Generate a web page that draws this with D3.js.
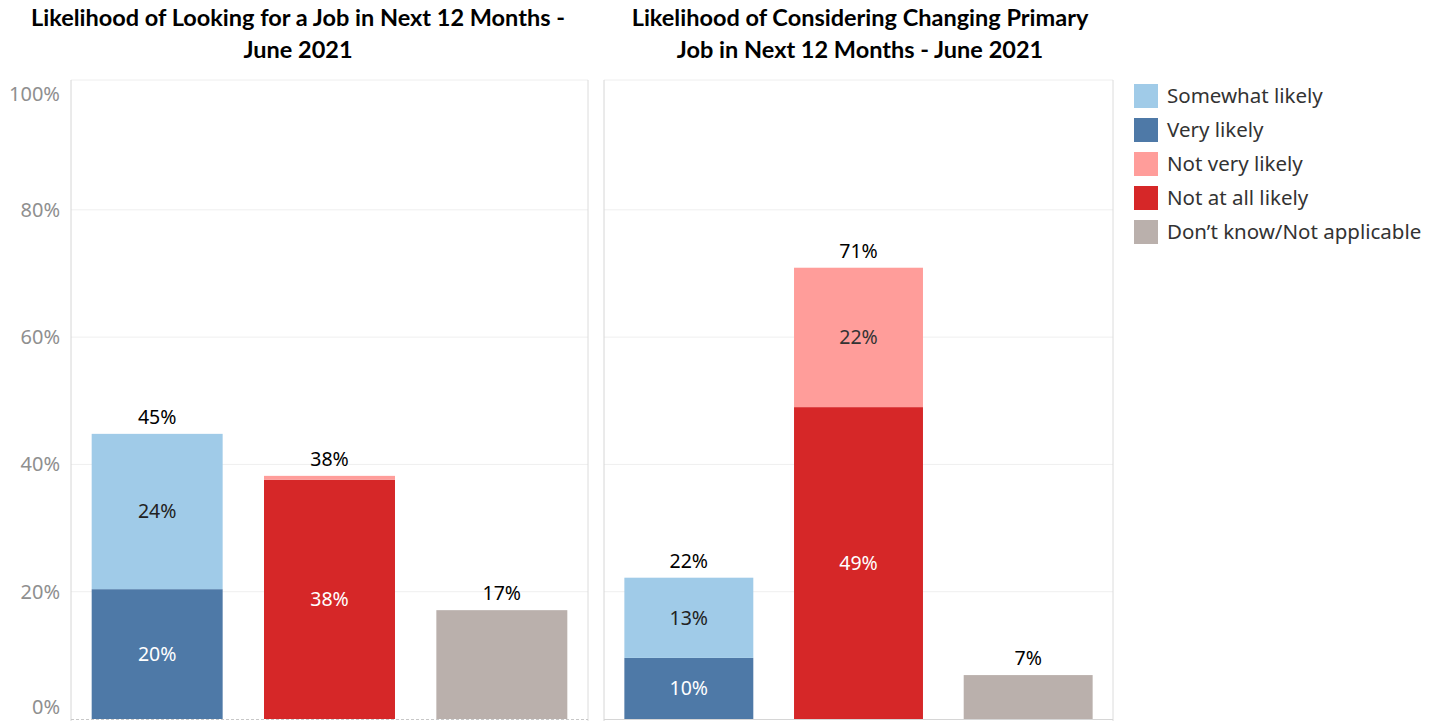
<!DOCTYPE html>
<html>
<head>
<meta charset="utf-8">
<script src="https://cdn.jsdelivr.net/npm/d3@7"></script>
<style>
  html, body { margin: 0; padding: 0; background: #fff; }
  svg { display: block; }
  .title { font-family: Lato, "Open Sans", sans-serif; font-weight: 700; font-size: 23.5px; fill: #000; }
  .tick text { font-family: "Noto Sans", sans-serif; font-size: 20px; fill: #8f8f8f; }
  .val { font-family: "Noto Sans", sans-serif; font-size: 19.5px; }
  .legend text { font-family: "Noto Sans", sans-serif; font-size: 20.5px; fill: #333; }
</style>
</head>
<body>
<div id="chart"></div>
<script>
(function () {
  const categories = ["Likely", "Not likely", "Don’t know/Not applicable"];
  const seriesKeys = ["Very likely", "Somewhat likely", "Not at all likely", "Not very likely", "Don’t know/Not applicable"];
  const legendOrder = ["Somewhat likely", "Very likely", "Not very likely", "Not at all likely", "Don’t know/Not applicable"];
  const yTicks = [0, 20, 40, 60, 80, 100];

  // Looking for a job (per category)
  const lookVeryLikely     = [20.4, 0, 0];
  const lookSomewhatLikely = [24.4, 0, 0];
  const lookNotAtAll       = [0, 37.6, 0];
  const lookNotVery        = [0, 0.6, 0];
  const lookDontKnow       = [0, 0, 17.1];

  // Considering changing primary job
  const changeVeryLikely     = [9.6, 0, 0];
  const changeSomewhatLikely = [12.6, 0, 0];
  const changeNotAtAll       = [0, 49.0, 0];
  const changeNotVery        = [0, 21.9, 0];
  const changeDontKnow       = [0, 0, 6.9];

  const colors = {
    "Somewhat likely": "#a0cbe8",
    "Very likely": "#4e79a7",
    "Not very likely": "#ff9d9a",
    "Not at all likely": "#d62728",
    "Don’t know/Not applicable": "#bab0ac"
  };
  const labelColor = {
    "Somewhat likely": "#222",
    "Very likely": "#fff",
    "Not very likely": "#333",
    "Not at all likely": "#fff",
    "Don’t know/Not applicable": "#222"
  };

  function rows(very, some, notAll, notVery, dk) {
    return categories.map((c, i) => ({
      cat: c,
      "Very likely": very[i],
      "Somewhat likely": some[i],
      "Not at all likely": notAll[i],
      "Not very likely": notVery[i],
      "Don’t know/Not applicable": dk[i]
    }));
  }

  const panels = [
    {
      title: ["Likelihood of Looking for a Job in Next 12 Months -", "June 2021"],
      data: rows(lookVeryLikely, lookSomewhatLikely, lookNotAtAll, lookNotVery, lookDontKnow),
      x0: 71, x1: 588, axis: true
    },
    {
      title: ["Likelihood of Considering Changing Primary", "Job in Next 12 Months - June 2021"],
      data: rows(changeVeryLikely, changeSomewhatLikely, changeNotAtAll, changeNotVery, changeDontKnow),
      x0: 604, x1: 1113, axis: false
    }
  ];

  const W = 1439, H = 721;
  const top = 80, yTop = 82.5, yBottom = 719;

  const svg = d3.select("#chart").append("svg")
    .attr("width", W).attr("height", H);

  const y = d3.scaleLinear().domain([0, 100]).range([yBottom, yTop]);
  const stack = d3.stack().keys(seriesKeys);

  panels.forEach(p => {
    const g = svg.append("g");
    const x = d3.scaleBand()
      .domain(categories)
      .range([p.x0, p.x1])
      .paddingInner(0.24)
      .paddingOuter(0.12);

    // titles
    const cx = p.axis ? 298 : 860;
    p.title.forEach((t, i) => {
      g.append("text").attr("class", "title")
        .attr("x", cx).attr("y", 26 + i * 32)
        .attr("text-anchor", "middle").text(t);
    });

    // gridlines
    g.selectAll(".grid").data(yTicks.filter(t => t > 0 && t < 100)).enter()
      .append("line")
      .attr("x1", p.x0).attr("x2", p.x1)
      .attr("y1", d => y(d)).attr("y2", d => y(d))
      .attr("stroke", "#efefef").attr("stroke-width", 1);

    // frame
    g.append("line").attr("x1", p.x0).attr("x2", p.x1).attr("y1", top).attr("y2", top)
      .attr("stroke", "#eeeeee");
    g.append("line").attr("x1", p.x0).attr("x2", p.x0).attr("y1", top).attr("y2", H)
      .attr("stroke", "#d6d6d6");
    g.append("line").attr("x1", p.x1).attr("x2", p.x1).attr("y1", top).attr("y2", H)
      .attr("stroke", "#dcdcdc");

    if (p.axis) {
      const ax = g.append("g")
        .attr("transform", `translate(${p.x0},0)`)
        .call(d3.axisLeft(y).tickValues(yTicks).tickFormat(d => d + "%").tickSize(0).tickPadding(11));
      ax.select(".domain").remove();
      // keep the end labels inside the pane
      ax.selectAll(".tick text")
        .attr("dy", d => d === 0 ? "-0.3em" : d === 100 ? "0.9em" : "0.32em");
      g.append("line").attr("x1", p.x0).attr("x2", p.x1).attr("y1", yBottom + 0.5).attr("y2", yBottom + 0.5)
        .attr("stroke", "#c8c8c8").attr("stroke-dasharray", "3,2");
    } else {
      g.append("line").attr("x1", p.x0).attr("x2", p.x1).attr("y1", yBottom + 0.5).attr("y2", yBottom + 0.5)
        .attr("stroke", "#d6d6d6");
    }

    const series = stack(p.data);

    series.forEach(s => {
      g.selectAll(null).data(s.filter(d => d[1] > d[0])).enter()
        .append("rect")
        .attr("x", d => x(d.data.cat))
        .attr("width", x.bandwidth())
        .attr("y", d => y(d[1]))
        .attr("height", d => y(d[0]) - y(d[1]))
        .attr("fill", colors[s.key]);

      // segment labels (skip single-segment bars and tiny segments)
      g.selectAll(null).data(s.filter(d => d[1] - d[0] >= 4 && d.data.cat !== categories[2])).enter()
        .append("text").attr("class", "val")
        .attr("x", d => x(d.data.cat) + x.bandwidth() / 2)
        .attr("y", d => y((d[0] + d[1]) / 2))
        .attr("dy", "0.35em")
        .attr("text-anchor", "middle")
        .attr("fill", labelColor[s.key])
        .text(d => Math.round(d[1] - d[0]) + "%");
    });

    // totals
    const totals = p.data.map(d => ({ cat: d.cat, total: d3.sum(seriesKeys, k => d[k]) }));
    g.selectAll(null).data(totals).enter()
      .append("text").attr("class", "val")
      .attr("x", d => x(d.cat) + x.bandwidth() / 2)
      .attr("y", d => y(d.total) - 10)
      .attr("text-anchor", "middle")
      .attr("fill", "#000")
      .text(d => Math.round(d.total) + "%");
  });

  // legend
  const legend = svg.append("g").attr("class", "legend")
    .attr("transform", "translate(1134,84)");
  const item = legend.selectAll("g").data(legendOrder).enter()
    .append("g").attr("transform", (d, i) => `translate(0,${i * 34})`);
  item.append("rect").attr("width", 24).attr("height", 24).attr("fill", d => colors[d]);
  item.append("text").attr("x", 33).attr("y", 12).attr("dy", "0.35em").text(d => d);
})();
</script>
</body>
</html>
